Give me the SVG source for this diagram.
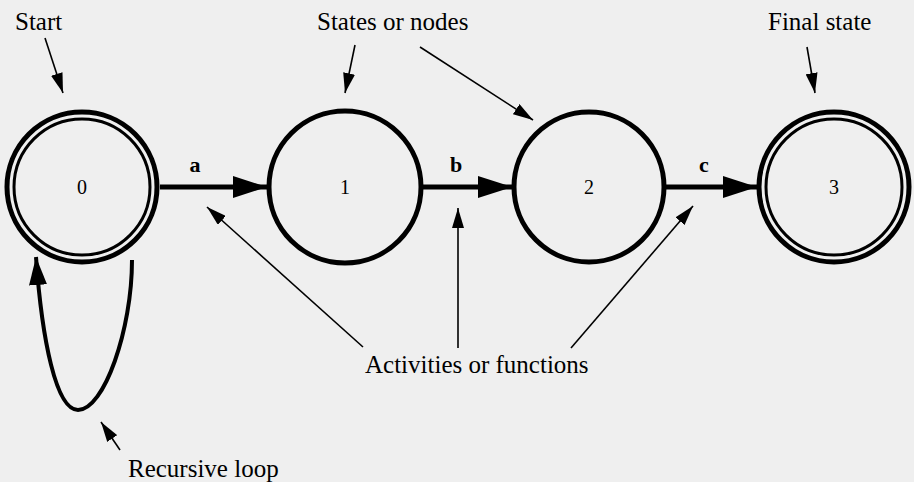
<svg xmlns="http://www.w3.org/2000/svg" width="914" height="482" viewBox="0 0 914 482">
<style>
.bg{fill:#efefef}
.st{fill:none;stroke:#000;stroke-width:5}
.in{fill:none;stroke:#000;stroke-width:3}
.lbl{font-family:"Liberation Serif","DejaVu Serif",serif;font-size:25px;fill:#000}
.num{font-family:"Liberation Serif","DejaVu Serif",serif;font-size:20px;fill:#000;text-anchor:middle}
.ed{font-family:"Liberation Serif","DejaVu Serif",serif;font-size:22px;font-weight:bold;fill:#000;text-anchor:middle}
.thick{fill:none;stroke:#000;stroke-width:5}
.thin{fill:none;stroke:#000;stroke-width:1.6}
.loop{fill:none;stroke:#000;stroke-width:4}
</style>
<defs>
<marker id="big" markerUnits="userSpaceOnUse" viewBox="0 0 34 22" refX="34" refY="11" markerWidth="34" markerHeight="22" orient="auto">
<path d="M0,0 L34,11 L0,22 Z" fill="#000"/>
</marker>
<marker id="small" markerUnits="userSpaceOnUse" viewBox="0 0 20 12" refX="20" refY="6" markerWidth="20" markerHeight="12" orient="auto">
<path d="M0,0 L20,6 L0,12 Z" fill="#000"/>
</marker>
<marker id="mid" markerUnits="userSpaceOnUse" viewBox="0 0 28 18" refX="28" refY="9" markerWidth="28" markerHeight="18" orient="auto">
<path d="M0,0 L28,9 L0,18 Z" fill="#000"/>
</marker>
</defs>
<rect class="bg" x="0" y="0" width="914" height="482"/>
<g id="connectors">
<line class="thick" x1="160" y1="187" x2="267" y2="187" marker-end="url(#big)"/>
<line class="thick" x1="422" y1="187" x2="512" y2="187" marker-end="url(#big)"/>
<line class="thick" x1="666" y1="187" x2="757" y2="187" marker-end="url(#big)"/>
<path class="loop" d="M132,260 C132,330 104,410 78,410 C56,410 42,340 36,257" marker-end="url(#mid)"/>
<text class="ed" x="195" y="172">a</text>
<text class="ed" x="456" y="172">b</text>
<text class="ed" x="704" y="172">c</text>
</g>
<g id="annotations">
<line class="thin" x1="45" y1="38" x2="63" y2="93" marker-end="url(#small)"/>
<line class="thin" x1="355" y1="45" x2="345" y2="93" marker-end="url(#small)"/>
<line class="thin" x1="420" y1="47" x2="533" y2="120" marker-end="url(#small)"/>
<line class="thin" x1="807" y1="47" x2="815" y2="93" marker-end="url(#small)"/>
<line class="thin" x1="363" y1="347" x2="207" y2="207" marker-end="url(#small)"/>
<line class="thin" x1="458" y1="348" x2="458" y2="208" marker-end="url(#small)"/>
<line class="thin" x1="571" y1="348" x2="693" y2="206" marker-end="url(#small)"/>
<line class="thin" x1="120" y1="450" x2="101" y2="422" marker-end="url(#small)"/>
<text class="lbl" x="15" y="30">Start</text>
<text class="lbl" x="317" y="30">States or nodes</text>
<text class="lbl" x="768" y="30">Final state</text>
<text class="lbl" x="365" y="373">Activities or functions</text>
<text class="lbl" x="128" y="477">Recursive loop</text>
</g>
<g id="node0">
<circle class="st" cx="82" cy="187" r="75"/>
<circle class="in" cx="82" cy="187" r="68"/>
<text class="num" x="82" y="194">0</text>
</g>
<g id="node1">
<circle class="st" cx="345" cy="187" r="76"/>
<text class="num" x="345" y="194">1</text>
</g>
<g id="node2">
<circle class="st" cx="589" cy="187" r="75"/>
<text class="num" x="589" y="194">2</text>
</g>
<g id="node3">
<circle class="st" cx="834" cy="187" r="75"/>
<circle class="in" cx="834" cy="187" r="68"/>
<text class="num" x="834" y="194">3</text>
</g>
</svg>
